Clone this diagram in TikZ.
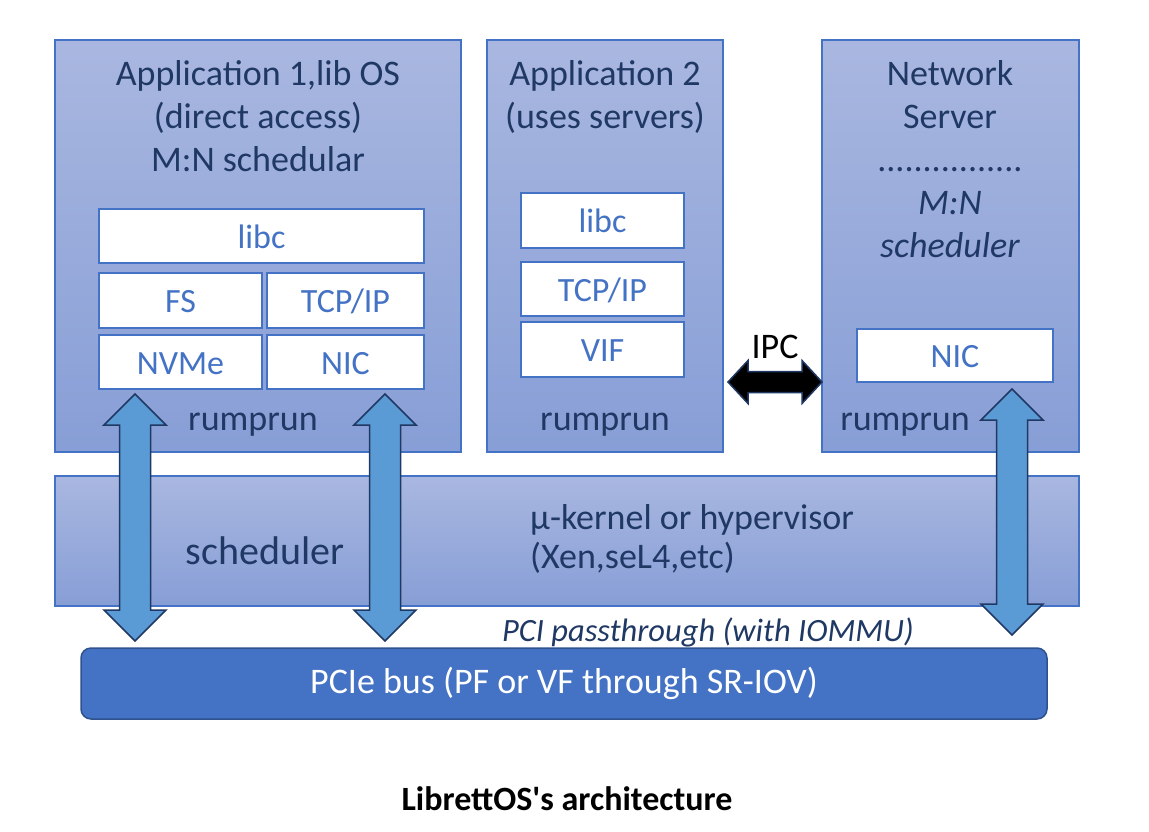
\documentclass[tikz,border=0pt]{standalone}
\usepackage{fontspec}
\setmainfont{Carlito}
\usetikzlibrary{calc}
\definecolor{navy}{HTML}{1F3864}
\definecolor{boxline}{HTML}{4472C4}
\definecolor{boxtop}{HTML}{A9B7E0}
\definecolor{boxbot}{HTML}{879ED6}
\definecolor{busfill}{HTML}{4472C4}
\definecolor{busline}{HTML}{2F528F}
\definecolor{arrfill}{HTML}{5B9BD5}
\definecolor{arrline}{HTML}{1F3864}
\newcommand\fsz[1]{\fontsize{#1}{43}\selectfont}
\font\capbf="Carlito/B" at 34pt
\newcommand\vpipe[2]{\draw[bigarrow] let \p1=(#1), \p2=(#2) in
  (\p1) -- ++(31,31) -- ++(-15.5,0) -- (\x1+15.5pt,\y2+31pt) -- ++(15.5,0) -- (\p2)
  -- ++(-31,-31) -- ++(15.5,0) -- (\x1-15.5pt,\y1-31pt) -- ++(-15.5,0) -- cycle;}
\begin{document}
\begin{tikzpicture}[x=1pt,y=-1pt,
  panel/.style={draw=boxline, line width=1.5pt, top color=boxtop, bottom color=boxbot, inner sep=0pt},
  layer/.style={draw=boxline, fill=white, line width=1.5pt, text=boxline, inner sep=0pt,
    font=\fsz{34}, text height=24pt, text depth=0pt},
  ttl/.style={text=navy, font=\fsz{36}, align=center, anchor=base, inner sep=0pt},
  bigarrow/.style={draw=arrline, fill=arrfill, line width=1.5pt, line join=miter},
  ipcarrow/.style={draw=arrline, fill=black, line width=1.5pt, line join=miter}]
\useasboundingbox (0,0) rectangle (1149,831);
% panels
\node[panel, minimum width=406pt, minimum height=412pt] (app1) at (258,246) {};
\node[panel, minimum width=236pt, minimum height=412pt] (app2) at (605,246) {};
\node[panel, minimum width=257pt, minimum height=412pt] (netsrv) at (950.5,246) {};
\node[panel, minimum width=1024pt, minimum height=130pt] (kernel) at (567,541) {};
\node[draw=busline, fill=busfill, line width=1.5pt, rounded corners=10pt,
  minimum width=966pt, minimum height=71pt, inner sep=0pt] (bus) at (564,683.5) {};
% panel titles (base anchor = last line)
\node[ttl] (t1) at (258,171) {Application 1,lib OS\\(direct access)\\M:N schedular};
\node[ttl] (t2) at (605,128) {Application 2\\(uses servers)};
\node[ttl] (t3) at (950,257) {Network\\Server\\................\\\textit{M:N}\\\textit{scheduler}};
% layers app1
\node[layer, minimum width=325pt, minimum height=54pt] (libc1) at (261.5,236) {libc};
\node[layer, minimum width=163pt, minimum height=55pt] (fs) at (180.5,300.5) {FS};
\node[layer, minimum width=157pt, minimum height=55pt] (tcp1) at (345.5,300.5) {TCP/IP};
\node[layer, minimum width=163pt, minimum height=54pt] (nvme) at (180.5,362) {NVMe};
\node[layer, minimum width=157pt, minimum height=54pt] (nic1) at (345.5,362) {NIC};
% layers app2
\node[layer, minimum width=163pt, minimum height=55pt] (libc2) at (602.5,220.5) {libc};
\node[layer, minimum width=163pt, minimum height=54pt] (tcp2) at (602.5,289) {TCP/IP};
\node[layer, minimum width=163pt, minimum height=55pt] (vif) at (602.5,349.5) {VIF};
% layer netsrv
\node[layer, minimum width=196pt, minimum height=53pt] (nic3) at (955,355.5) {NIC};
% rumprun labels
\node[ttl] (r1) at (253,430) {rumprun};
\node[ttl] (r2) at (605,430) {rumprun};
\node[ttl] (r3) at (905,430) {rumprun};
% kernel texts
\node[ttl, font=\fsz{40}] (sched) at (265,564) {scheduler};
\node[text=navy, font=\fontsize{36}{39}\selectfont, align=left, anchor=base west, inner sep=0pt] (ukern) at (530,568) {µ-kernel or hypervisor\\(Xen,seL4,etc)};
\node[ttl, font=\fsz{32.5}\itshape] (pci) at (708,641) {PCI passthrough (with IOMMU)};
\node[ttl, text=white] (bustext) at (564,693) {PCIe bus (PF or VF through SR-IOV)};
% IPC
\node[ttl, text=black] (ipc) at (775,358) {IPC};
\coordinate (ipcL) at (728,382);
\coordinate (ipcR) at (822,382);
\draw[ipcarrow] let \p1=(ipcL), \p2=(ipcR) in (\p1) -- ++(20,-21.5) -- ++(0,11)
  -- (\x2-20pt,\y1+10.5pt) -- ++(0,-11) -- (\p2) -- ++(-20,21.5) -- ++(0,-11)
  -- (\x1+20pt,\y1-10.5pt) -- ++(0,11) -- cycle;
% big arrows
\coordinate (p1t) at (135,394); \coordinate (p1b) at (135,641);
\coordinate (p2t) at (385,394); \coordinate (p2b) at (385,641);
\coordinate (p3t) at (1012,389); \coordinate (p3b) at (1012,635);
\vpipe{p1t}{p1b}
\vpipe{p2t}{p2b}
\vpipe{p3t}{p3b}
% caption
\node[anchor=base, inner sep=0pt, font=\capbf] (cap) at (567,810) {LibrettOS's architecture};
\end{tikzpicture}
\end{document}
